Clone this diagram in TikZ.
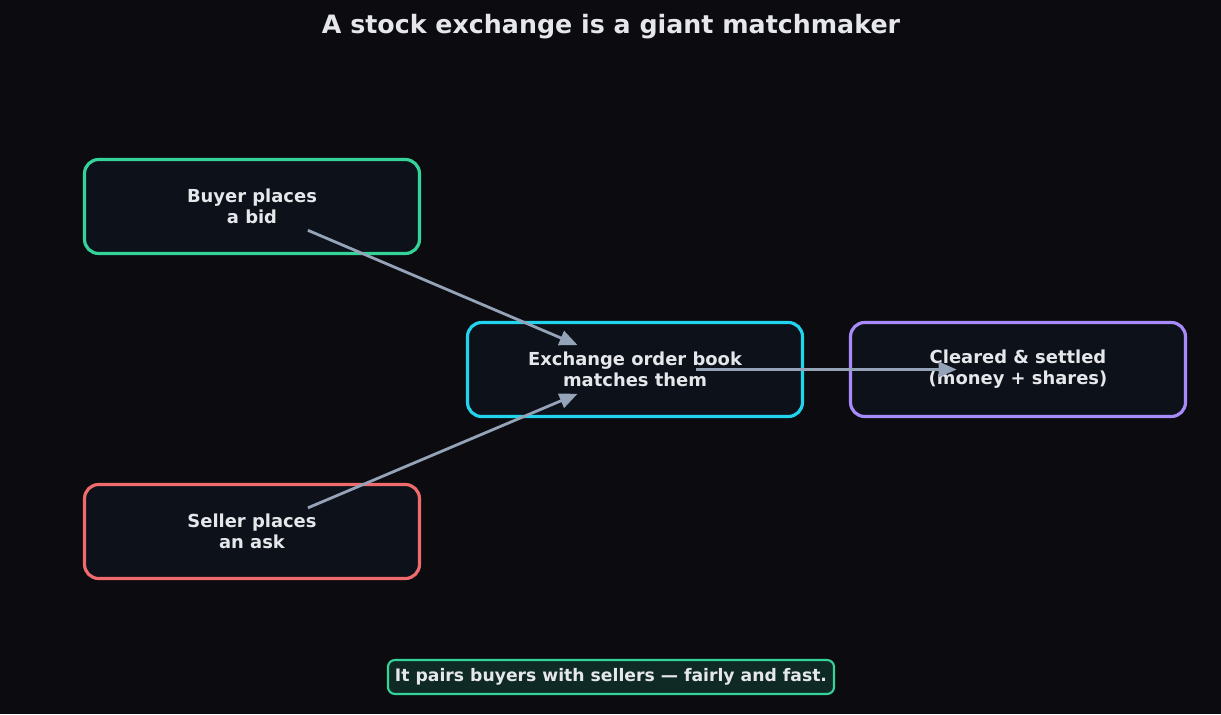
\documentclass[tikz,border=0pt]{standalone}
\usepackage{fontspec}
\setmainfont{DejaVu Sans}
\usetikzlibrary{arrows.meta,calc}
\definecolor{bgdark}{HTML}{0B0B10}
\definecolor{boxfill}{HTML}{0D111A}
\definecolor{txtlight}{HTML}{E5E7EB}
\definecolor{buygreen}{HTML}{34D399}
\definecolor{bookcyan}{HTML}{22D3EE}
\definecolor{clearpurple}{HTML}{A78BFA}
\definecolor{sellred}{HTML}{F06B6B}
\definecolor{arrowgray}{HTML}{94A3B8}
\definecolor{notefill}{HTML}{0F2A24}

\begin{document}
\begin{tikzpicture}[x=0.02cm,y=-0.02cm,
    stage/.style={draw,line width=1.8pt,rounded corners=8pt,fill=boxfill,
      text=txtlight,font=\bfseries\fontsize{10.2}{12}\selectfont,align=center,
      minimum width=6.7cm,minimum height=1.88cm,inner sep=0pt},
    flow/.style={draw=arrowgray,line width=1.6pt,
      -{Triangle[length=0.36cm,width=0.3cm]}}]
\fill[bgdark] (0,0) rectangle (1221,714);
\useasboundingbox (0,0) rectangle (1221,714);

\node (title) at (611,27) [text=txtlight,font=\bfseries\fontsize{14.4}{17}\selectfont]
  {A stock exchange is a giant matchmaker};

\node (buyer)   at (252,206.5)  [stage,draw=buygreen]    {Buyer places\\a bid};
\node (seller)  at (252,531.5)  [stage,draw=sellred]     {Seller places\\an ask};
\node (book)    at (635,369.5)  [stage,draw=bookcyan]    {Exchange order book\\matches them};
\node (cleared) at (1018,369.5) [stage,draw=clearpurple] {Cleared \& settled\\(money + shares)};

\draw[flow] ($(buyer)!0.146!(book)$) -- ($(buyer)!0.85!(book)$);
\draw[flow] ($(seller)!0.146!(book)$) -- ($(seller)!0.85!(book)$);
\draw[flow] ($(book)!0.16!(cleared)$) -- ($(book)!0.84!(cleared)$);

\node (note) at (611,677) [draw=buygreen,line width=1.2pt,rounded corners=4pt,
  fill=notefill,text=txtlight,font=\bfseries\fontsize{9.8}{12}\selectfont,
  inner xsep=4pt,minimum height=0.68cm]
  {It pairs buyers with sellers — fairly and fast.};
\end{tikzpicture}
\end{document}
